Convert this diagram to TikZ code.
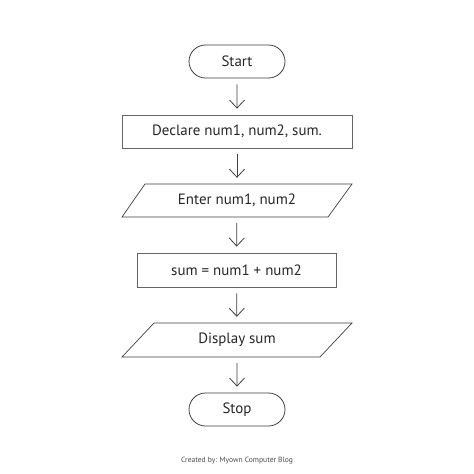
\documentclass[tikz,border=0pt]{standalone}
\usepackage{fontspec}
\setmainfont{PT Sans}
\usetikzlibrary{shapes.misc,arrows.meta}
\begin{document}
\begin{tikzpicture}[x=1bp,y=-1bp,
  every node/.style={inner sep=0pt,font=\fontsize{15}{17}\selectfont,text=black!85},
  term/.style={rounded rectangle,draw=black!75,line width=0.8bp,minimum width=96bp,minimum height=33bp},
  proc/.style={rectangle,draw=black!60,line width=0.8bp,minimum width=#1,minimum height=33bp},
  iobox/.style={rectangle,minimum width=230bp,minimum height=33bp},
  para/.style={draw=black!75,line width=0.7bp},
  flow/.style={draw=black!75,line width=0.8bp,-{Straight Barb[length=8bp,width=15bp]},shorten <=6bp,shorten >=6bp}]
\useasboundingbox (0,0) rectangle (474,474);
\fill[white] (0,0) rectangle (474,474);
\node[term] (start) at (237,61.5) {Start};
\node[proc=230bp] (declare) at (237,131.5) {Declare num1, num2, sum.};
\node[iobox] (enter) at (237,200.5) {Enter num1, num2};
\draw[para] (122,217) -- (145,184) -- (352,184) -- (328,217) -- cycle;
\node[proc=199bp,minimum height=34bp] (sum) at (236.5,270) {sum = num1 + num2};
\node[iobox,minimum height=34bp] (display) at (237,340) {Display sum};
\draw[para] (122,357) -- (154,323) -- (352,323) -- (320,357) -- cycle;
\node[term] (stop) at (237,409.5) {Stop};
\node[font=\fontsize{7.6}{9}\selectfont,text=black!70] (credit) at (237,461) {Created by: Myown Computer Blog};
\draw[flow] (start) -- (declare);
\draw[flow] (declare) -- (enter);
\draw[flow] (enter) -- (sum);
\draw[flow] (sum) -- (display);
\draw[flow] (display) -- (stop);
\end{tikzpicture}
\end{document}
